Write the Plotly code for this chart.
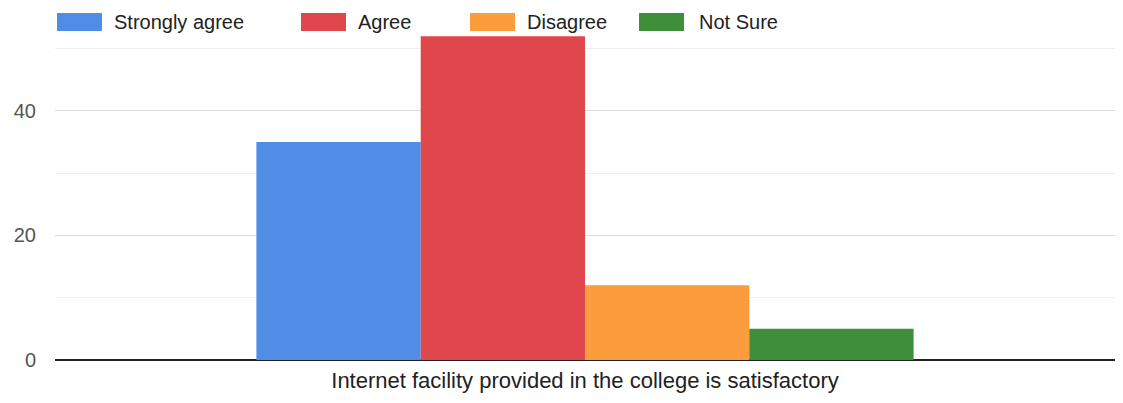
import plotly.graph_objects as go

# datos
categoria = ["Internet facility provided in the college is satisfactory"]
respuestas = ["Strongly agree", "Agree", "Disagree", "Not Sure"]
valores = [35, 52, 12, 5]
colores = ["#4f8de6", "#e0474c", "#fb9d3c", "#3f8f3a"]

# leyenda hecha a mano (posiciones en pixeles de pantalla)
leyenda_swatch_x = [57, 301, 470, 639]
leyenda_texto_x = [112, 356, 525, 697]

# la pagina tiene 8px de margen en el body
OFF = 8
W, H = 1123 - 2 * OFF, 403 - 2 * OFF
L, R, T, B = 55 - OFF, 0, 30 - OFF, 403 - 360 - OFF


def px_x(p):
    return (p - OFF - L) / (W - L - R)


def px_y(p):
    return (H - B - (p - OFF)) / (H - T - B)


fig = go.Figure()

for nombre, v, c in zip(respuestas, valores, colores):
    fig.add_trace(go.Bar(x=categoria, y=[v], name=nombre, marker_color=c,
                         marker_line_width=0, showlegend=False))

for nombre, c, sx, tx in zip(respuestas, colores, leyenda_swatch_x, leyenda_texto_x):
    fig.add_shape(type="rect", xref="paper", yref="paper",
                  x0=px_x(sx), x1=px_x(sx + 45), y0=px_y(31), y1=px_y(13),
                  fillcolor=c, line_width=0)
    fig.add_annotation(text=nombre, xref="paper", yref="paper", x=px_x(tx), y=px_y(22),
                       xanchor="left", yanchor="middle", showarrow=False,
                       font=dict(size=20, color="#222222"))

# ejes
fig.update_yaxes(range=[0, 53], tickvals=[0, 20, 40], showgrid=True,
                 gridcolor="#dcdcdc", gridwidth=1,
                 minor=dict(tickvals=[10, 30, 50], showgrid=True, gridcolor="#efefef"),
                 zeroline=True, zerolinecolor="#222222", zerolinewidth=2,
                 tickfont=dict(size=20, color="#555555"), ticks="", ticklabelstandoff=18)
fig.update_xaxes(tickfont=dict(size=22, color="#222222"), showline=False, ticks="",
                 ticklabelstandoff=5)

# tamaño
fig.update_layout(
    width=W, height=H,
    margin=dict(l=L, r=R, t=T, b=B, autoexpand=False),
    barmode="group", bargap=0.38, bargroupgap=0,
    plot_bgcolor="white", paper_bgcolor="white",
    font=dict(family="Liberation Sans, Arial, sans-serif"),
    showlegend=False,
)

fig.write_html("out.html")
